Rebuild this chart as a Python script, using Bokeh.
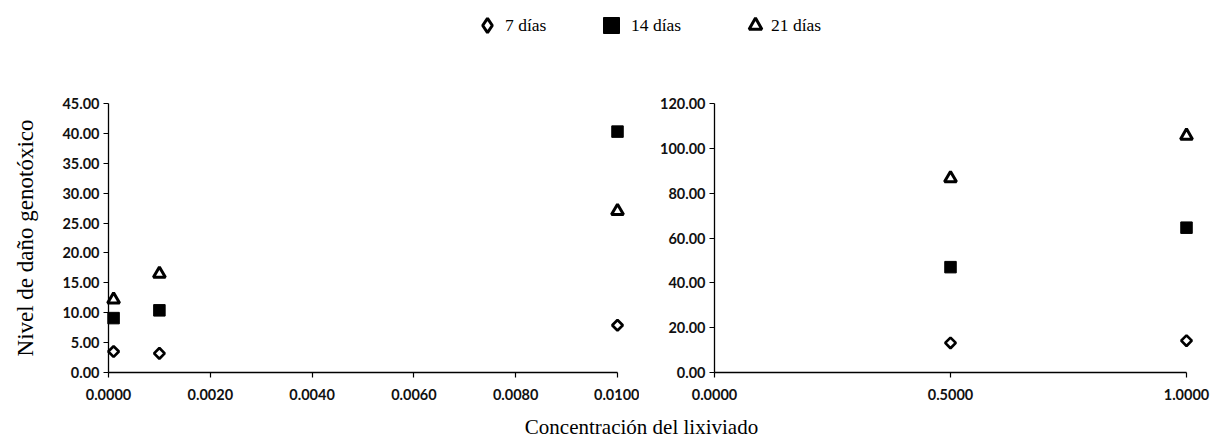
from bokeh.plotting import figure
from bokeh.models import Range1d, NumeralTickFormatter, FixedTicker, Legend, LegendItem, Label
from bokeh.layouts import column, row
from bokeh.embed import file_html
from bokeh.resources import INLINE

# ---------------- data ----------------
series_names = ["7 días", "14 días", "21 días"]

conc_low = [0.0001, 0.001, 0.01]
d7_low = [3.5, 3.2, 7.9]
d14_low = [9.1, 10.4, 40.3]
d21_low = [12.2, 16.5, 27.0]

conc_high = [0.5, 1.0]
d7_high = [13.2, 14.2]
d14_high = [47.0, 64.6]
d21_high = [86.6, 105.6]

x_ticks_low = [0.0, 0.002, 0.004, 0.006, 0.008, 0.01]
y_ticks_low = [0, 5, 10, 15, 20, 25, 30, 35, 40, 45]
x_ticks_high = [0.0, 0.5, 1.0]
y_ticks_high = [0, 20, 40, 60, 80, 100, 120]

y_label = "Nivel de daño genotóxico"
x_label = "Concentración del lixiviado"

TICK_FONT = "Lato"
SERIF = "Liberation Serif"

# ---------------- helpers ----------------
def style(p, xticks, yticks):
    p.xaxis.ticker = FixedTicker(ticks=xticks)
    p.yaxis.ticker = FixedTicker(ticks=yticks)
    p.xaxis.formatter = NumeralTickFormatter(format="0.0000")
    p.yaxis.formatter = NumeralTickFormatter(format="0.00")
    for ax in p.axis:
        ax.axis_line_color = "black"
        ax.axis_line_width = 1.3
        ax.major_tick_line_color = "black"
        ax.major_tick_line_width = 1.2
        ax.major_tick_out = 5
        ax.major_tick_in = 0
        ax.minor_tick_line_color = None
        ax.major_label_text_font = TICK_FONT
        ax.major_label_text_font_size = "14.5px"
        ax.major_label_text_font_style = "bold"
        ax.major_label_text_color = "#111111"
    p.xaxis.major_label_standoff = 11
    p.yaxis.major_label_standoff = 4
    p.xgrid.visible = False
    p.ygrid.visible = False
    p.outline_line_color = None
    p.background_fill_color = "white"
    p.border_fill_color = "white"


def add_series(p, xs, y7, y14, y21):
    r7 = p.scatter(xs, y7, marker="square", angle=0.785398, size=7.5,
                   fill_color="white", line_color="black", line_width=2.7, level="overlay")
    r14 = p.scatter(xs, y14, marker="square", size=11.5,
                    fill_color="black", line_color="black", line_width=1, level="overlay")
    r21 = p.scatter(xs, y21, marker="triangle", size=12,
                    fill_color="white", line_color="black", line_width=3, level="overlay")
    return r7, r14, r21


PLOT_H = 357
TOP = 55
BOTTOM = 33

# ---------------- left panel ----------------
left = figure(width=639, height=PLOT_H, x_range=Range1d(0, 0.01), y_range=Range1d(0, 45),
              output_backend="svg", toolbar_location=None, title=None,
              min_border_left=108, min_border_right=22, min_border_top=TOP, min_border_bottom=BOTTOM)
style(left, x_ticks_low, y_ticks_low)
left.yaxis.axis_label = y_label
left.yaxis.axis_label_text_font = SERIF
left.yaxis.axis_label_text_font_size = "23px"
left.yaxis.axis_label_text_font_style = "normal"
left.yaxis.axis_label_text_color = "black"
left.yaxis.axis_label_standoff = 21
add_series(left, conc_low, d7_low, d14_low, d21_low)

# ---------------- right panel ----------------
right = figure(width=573, height=PLOT_H, x_range=Range1d(0, 1.0), y_range=Range1d(0, 120),
               output_backend="svg", toolbar_location=None, title=None,
               min_border_left=75, min_border_right=26, min_border_top=TOP, min_border_bottom=BOTTOM)
style(right, x_ticks_high, y_ticks_high)
add_series(right, conc_high, d7_high, d14_high, d21_high)

# ---------------- legend strip ----------------
# series drawn here only to provide legend glyphs; the view range keeps the points out of sight
lf = figure(width=1212, height=48, x_range=Range1d(5, 6), y_range=Range1d(500, 501),
            output_backend="svg", toolbar_location=None, title=None,
            x_axis_location=None, y_axis_location=None, min_border=0,
            outline_line_color=None)
lf.xgrid.visible = False
lf.ygrid.visible = False
g7 = lf.scatter(conc_low, d7_low, marker="diamond", fill_color="white", line_color="black", line_width=3)
g14 = lf.scatter(conc_low, d14_low, marker="square", fill_color="black", line_color="black", line_width=1)
g21 = lf.scatter(conc_low, d21_low, marker="triangle", fill_color="white", line_color="black", line_width=3)

legend_specs = [(g7, series_names[0], 36, 469, -8),
                (g14, series_names[1], 40, 591, -3),
                (g21, series_names[2], 32, 739, -3)]
for rend, name, g, xloc, stand in legend_specs:
    lg = Legend(items=[LegendItem(label=name, renderers=[rend])],
                location=(xloc, 23 - g // 2), glyph_width=g, glyph_height=g,
                label_height=g, label_standoff=stand, padding=0, margin=0, spacing=0,
                border_line_color=None, background_fill_alpha=0,
                label_text_font=SERIF, label_text_font_size="17.5px",
                label_text_color="black", label_text_baseline="middle")
    lf.add_layout(lg, "center")

# ---------------- x-axis title strip ----------------
tf = figure(width=1212, height=33, x_range=Range1d(0, 1), y_range=Range1d(0, 1),
            output_backend="svg", toolbar_location=None, title=None,
            x_axis_location=None, y_axis_location=None, min_border=0,
            outline_line_color=None)
tf.xgrid.visible = False
tf.ygrid.visible = False
tf.add_layout(Label(x=641, y=12, x_units="screen", y_units="screen", text=x_label,
                    text_align="center", text_baseline="middle",
                    text_font=SERIF, text_font_size="21px", text_color="black"))

layout = column(lf, row(left, right, spacing=0), tf, spacing=0)

open("out.html", "w").write(file_html(layout, INLINE))
